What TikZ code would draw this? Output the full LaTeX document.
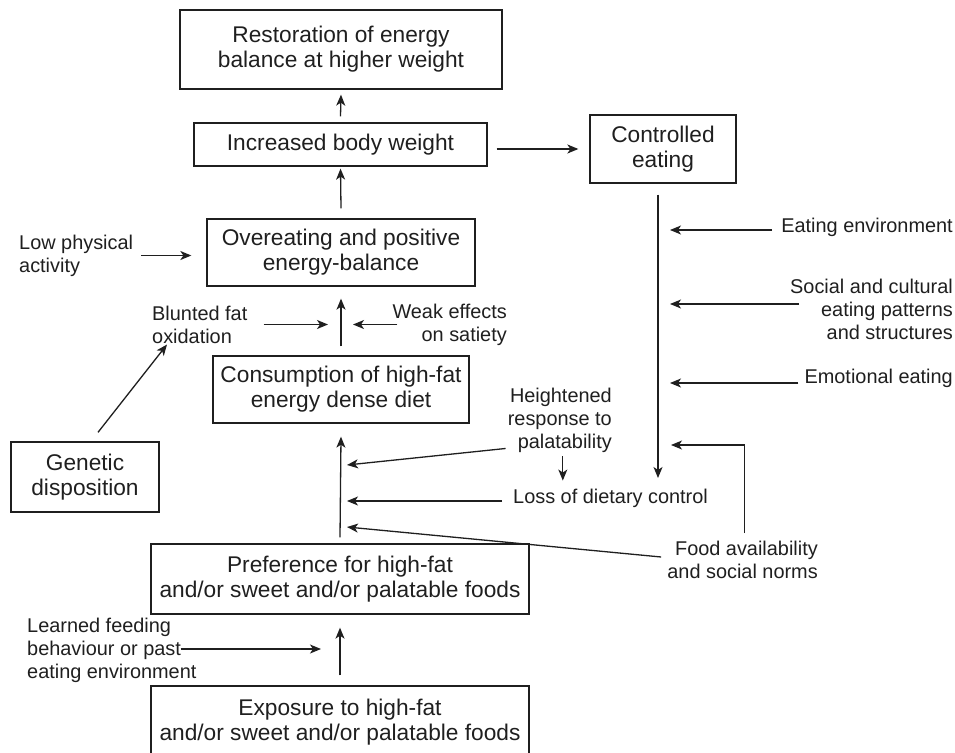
\documentclass[tikz,border=0pt]{standalone}
\usepackage{fontspec}
\setmainfont{Liberation Sans}
\usetikzlibrary{arrows.meta}
\colorlet{ink}{black!88}
\tikzset{
	box/.style={draw=ink,text=ink,line width=1.3pt,align=center,inner sep=0pt,font=\fontsize{22.7}{25}\selectfont},
	lbl/.style={text=ink,inner sep=0pt,font=\fontsize{19.9}{23}\selectfont},
	arr/.style={draw=ink,line width=1.3pt,-{Stealth[length=11pt,width=9pt,inset=3pt]}},
}

\begin{document}
\begin{tikzpicture}[x=1pt,y=-1pt]
	\useasboundingbox (0,0) rectangle (955,752);
	% boxes
	\node[box,minimum width=322pt,minimum height=79pt] (rest) at (341,49.5) {Restoration of energy\\balance at higher weight};
	\node[box,minimum width=293pt,minimum height=43pt] (incr) at (340.5,144.5) {Increased body weight};
	\node[box,minimum width=146pt,minimum height=68pt] (ctrl) at (663,149) {Controlled\\eating};
	\node[box,minimum width=268pt,minimum height=67pt] (over) at (341,252.5) {Overeating and positive\\energy-balance};
	\node[box,minimum width=256pt,minimum height=67pt] (cons) at (341,389.5) {Consumption of high-fat\\energy dense diet};
	\node[box,minimum width=148pt,minimum height=70pt] (gene) at (85,477) {Genetic\\disposition};
	\node[box,minimum width=378pt,minimum height=70pt] (pref) at (340,579) {Preference for high-fat\\and/or sweet and/or palatable foods};
	\node[box,minimum width=378pt,minimum height=72pt] (expo) at (340,722) {Exposure to high-fat\\and/or sweet and/or palatable foods};
	% labels
	\node[lbl,anchor=west,align=left] (lowpa) at (19,255.5) {Low physical\\activity};
	\node[lbl,anchor=west,align=left] (blunt) at (152,324.5) {Blunted fat\\oxidation};
	\node[lbl,anchor=east,align=right] (weak) at (507,324.5) {Weak effects\\on satiety};
	\node[lbl,anchor=east,align=right] (heig) at (612,420) {Heightened\\response to\\palatability};
	\node[lbl,anchor=west] (loss) at (513,498) {Loss of dietary control};
	\node[lbl,anchor=east,align=right] (food) at (818,560) {Food availability\\and social norms};
	\node[lbl,anchor=east] (envi) at (953,227) {Eating environment};
	\node[lbl,anchor=east,align=right] (soci) at (953,309.5) {Social and cultural\\eating patterns\\and structures};
	\node[lbl,anchor=east] (emot) at (953,378) {Emotional eating};
	\node[lbl,anchor=west,align=left] (lear) at (27,650.5) {Learned feeding\\behaviour or past\\eating environment};
	% free ends
	\coordinate (sa) at (347,465);
	\coordinate (sb) at (347,501);
	\coordinate (sc) at (347,527);
	\coordinate (ce) at (658,478);
	\coordinate (cl) at (671,445);
	% main chain
	\draw[arr] ([yshift=6pt]incr.north) -- ([yshift=-5pt]rest.south);
	\draw[arr] ([yshift=10pt]over.north) -- ([yshift=-2pt]incr.south);
	\draw[arr] ([xshift=9pt]ctrl.west -| incr.east) -- ([xshift=-11pt]ctrl.west);
	\draw[arr] ([yshift=9pt]cons.north) -- ([yshift=-12pt]over.south);
	\draw[arr] ([yshift=6pt]pref.north) -- ([yshift=-13pt]cons.south);
	\draw[arr] ([yshift=10pt]expo.north) -- ([yshift=-13pt]pref.south);
	% side influences
	\draw[arr] ([xshift=8pt]lowpa.east) -- ([xshift=-15pt]lowpa.east -| over.west);
	\draw[arr] ([xshift=16pt]blunt.east) -- ([xshift=-13pt]blunt.east -| cons.north);
	\draw[arr] ([xshift=5pt]weak.west) -- ([xshift=12pt]weak.west -| cons.north);
	\draw[arr] ([xshift=13pt,yshift=9pt]gene.north) -- ([xshift=15pt,yshift=-1pt]blunt.south west);
	\draw[arr] ([xshift=-16pt,yshift=1.5pt]lear.east) -- ([xshift=-19pt,yshift=1.5pt]lear.east -| expo.north);
	\draw[arr] ([xshift=-2pt,yshift=4pt]heig.south west) -- (sa);
	\draw[arr] ([xshift=-11pt,yshift=-3pt]loss.west) -- (sb);
	\draw[arr] ([xshift=-6pt,yshift=3pt]food.west) -- (sc);
	\draw[arr] ([xshift=3pt,yshift=-4pt]heig.south) -- ([xshift=3pt,yshift=8pt]heig.south |- loss.north);
	% controlled eating branch
	\draw[arr] ([xshift=-5pt,yshift=-11pt]ctrl.south) -- (ce);
	\draw[arr] ([xshift=-9pt,yshift=-3pt]envi.west) -- ([xshift=12pt,yshift=-3pt]envi.west -| ce);
	\draw[arr] ([xshift=9pt,yshift=5.5pt]soci.west) -- ([xshift=12pt,yshift=5.5pt]soci.west -| ce);
	\draw[arr] ([xshift=-6pt,yshift=-5pt]emot.west) -- ([xshift=12pt,yshift=-5pt]emot.west -| ce);
	\draw[arr] ([xshift=2pt,yshift=8pt]food.north) |- (cl);
\end{tikzpicture}
\end{document}
